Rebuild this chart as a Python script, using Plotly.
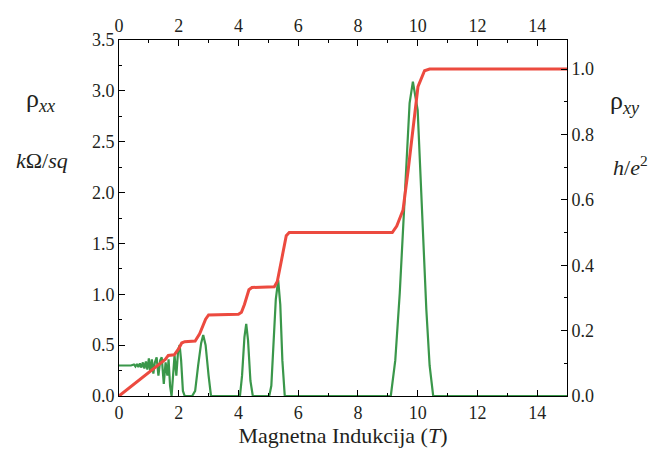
import plotly.graph_objects as go

# Magnetic field (T) and rho_xx (kOhm/sq) for the green curve
b_xx = [0, 0.4, 0.5, 0.55, 0.6, 0.65, 0.7, 0.75, 0.8, 0.85, 0.9, 0.95, 1.0, 1.05, 1.1,
        1.15, 1.2, 1.26, 1.32, 1.38, 1.43, 1.50, 1.56, 1.62, 1.66, 1.71, 1.76, 1.80,
        1.86, 1.92, 1.98, 2.03, 2.08, 2.14, 2.20, 2.45, 2.55, 2.65, 2.75, 2.82, 2.90,
        3.00, 3.08, 4.05, 4.12, 4.20, 4.26, 4.32, 4.40, 4.48, 5.03, 5.10, 5.18, 5.25,
        5.33, 5.40, 5.47, 5.55, 9.10, 9.25, 9.40, 9.57, 9.73, 9.84, 10.0, 10.12, 10.29,
        10.40, 10.52, 15.0]
rho_xx = [0.30, 0.30, 0.31, 0.29, 0.315, 0.285, 0.32, 0.28, 0.33, 0.27, 0.34, 0.26, 0.37,
          0.24, 0.36, 0.22, 0.33, 0.38, 0.20, 0.35, 0.38, 0.12, 0.33, 0.20, 0.36, 0.10,
          0.0, 0.15, 0.40, 0.20, 0.45, 0.50, 0.35, 0.05, 0.0, 0.0, 0.05, 0.30, 0.52,
          0.60, 0.50, 0.20, 0.0, 0.0, 0.20, 0.58, 0.71, 0.55, 0.15, 0.0, 0.0, 0.10,
          0.50, 0.95, 1.14, 0.90, 0.35, 0.0, 0.0, 0.35, 1.01, 2.0, 2.88, 3.09, 2.81,
          2.0, 0.85, 0.30, 0.0, 0.0]

# Magnetic field (T) and rho_xy (h/e^2) for the red curve
b_xy = [0, 1.55, 1.65, 1.85, 2.0, 2.1, 2.2, 2.55, 2.7, 2.9, 3.0, 4.0, 4.1, 4.2, 4.35,
        4.45, 5.2, 5.3, 5.45, 5.6, 5.7, 9.15, 9.3, 9.51, 9.68, 9.84, 10.01, 10.23,
        10.4, 15.0]
rho_xy = [0, 0.112, 0.124, 0.126, 0.145, 0.162, 0.166, 0.168, 0.19, 0.235, 0.248, 0.250,
          0.256, 0.28, 0.325, 0.332, 0.334, 0.35, 0.42, 0.49, 0.5, 0.5, 0.52, 0.569,
          0.69, 0.824, 0.946, 0.995, 1.0, 1.0]

x_ticks = [0, 2, 4, 6, 8, 10, 12, 14]

FONT = "Liberation Serif"
TXT = "#231f20"

W, H = 654, 457
ML, MT = 119, 40
PW, PH = 448, 356
MR, MB = W - ML - PW, H - MT - PH

fig = go.Figure()
fig.add_trace(go.Scatter(x=b_xx, y=rho_xx, mode="lines", xaxis="x", yaxis="y",
                         line=dict(color="#3a974a", width=2.2), showlegend=False))
fig.add_trace(go.Scatter(x=b_xy, y=rho_xy, mode="lines", xaxis="x2", yaxis="y2",
                         line=dict(color="#ec4a3f", width=3), showlegend=False))

common = dict(showline=True, linecolor="black", linewidth=1, showgrid=False,
              zeroline=False, ticks="inside", ticklen=6, tickcolor="black",
              tickfont=dict(family=FONT, size=18, color=TXT))

fig.update_layout(
    width=W, height=H,
    margin=dict(l=ML, r=MR, t=MT, b=MB),
    paper_bgcolor="white", plot_bgcolor="white",
    font=dict(family=FONT, color=TXT),
    xaxis=dict(range=[0, 15], tickvals=x_ticks,
               minor=dict(ticks="inside", ticklen=3, dtick=1, tickcolor="black"),
               title=dict(text="Magnetna Indukcija (<i>T</i>)", standoff=4,
                          font=dict(family=FONT, size=22, color=TXT)),
               **common),
    xaxis2=dict(range=[0, 15], tickvals=x_ticks, overlaying="x", side="top", anchor="y2",
                minor=dict(ticks="inside", ticklen=3, dtick=1, tickcolor="black"),
                **common),
    yaxis=dict(range=[0, 3.5], dtick=0.5, tickformat=".1f",
               minor=dict(ticks="inside", ticklen=3, dtick=0.25, tickcolor="black"),
               **common),
    yaxis2=dict(range=[0, 1.089], dtick=0.2, tickformat=".1f", overlaying="y",
                side="right", anchor="x2",
                minor=dict(ticks="inside", ticklen=3, dtick=0.1, tickcolor="black"),
                **common),
)

# labels placed (by their centres) at page-pixel positions
labels = [
    ("ρ<sub><i>xx</i></sub>", 40, 100, 26),
    ("<i>k</i>Ω/<i>sq</i>", 42, 160, 22),
    ("ρ<sub><i>xy</i></sub>", 625, 102, 26),
    ("<i>h</i>/<i>e</i><sup>2</sup>", 630, 166, 22),
]
for text, px, py, size in labels:
    fig.add_annotation(text=text, showarrow=False, xref="paper", yref="paper",
                       xanchor="center", yanchor="middle",
                       x=(px - ML) / PW, y=(MT + PH - py) / PH,
                       font=dict(family=FONT, size=size, color=TXT))

fig.write_html("out.html", config={"displayModeBar": False},
               post_script="document.body.style.margin='0';document.body.style.overflow='hidden';")
